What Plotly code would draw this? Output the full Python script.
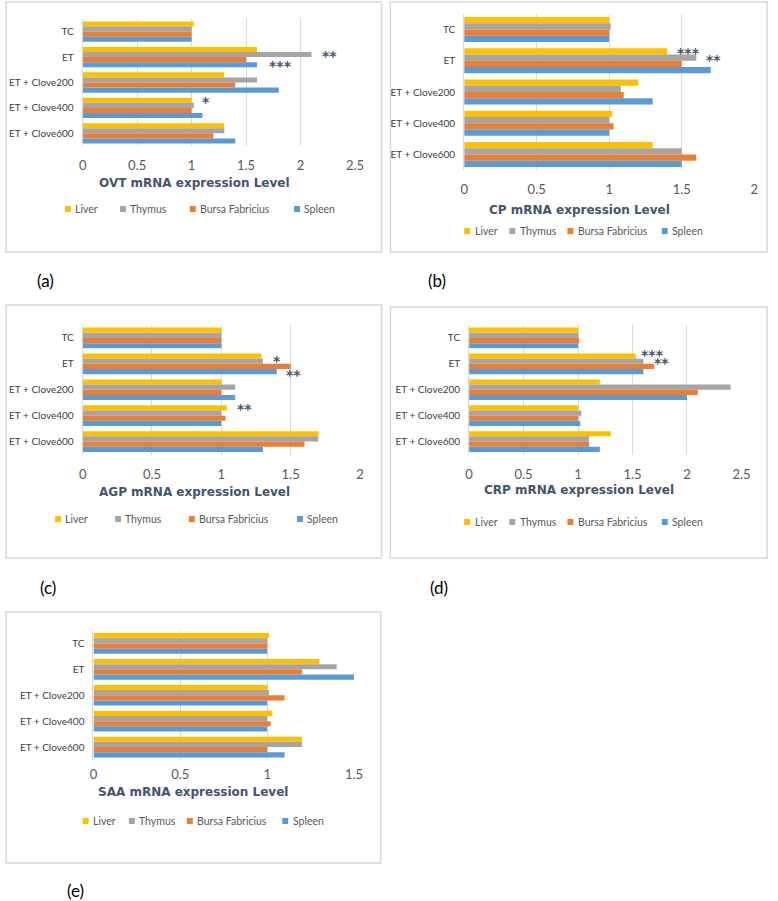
import plotly.graph_objects as go

W, H = 778, 901

categories = ["TC", "ET", "ET + Clove200", "ET + Clove400", "ET + Clove600"]
series_names = ["Liver", "Thymus", "Bursa Fabricius", "Spleen"]
series_colors = ["#FFC000", "#A5A5A5", "#ED7D31", "#5B9BD5"]

# values per series, in category order (TC, ET, +200, +400, +600)
ovt_liver = [1.02, 1.6, 1.3, 1.0, 1.3]
ovt_thymus = [1.0, 2.1, 1.6, 1.02, 1.3]
ovt_bursa = [1.0, 1.5, 1.4, 1.0, 1.2]
ovt_spleen = [1.0, 1.6, 1.8, 1.1, 1.4]

cp_liver = [1.0, 1.4, 1.2, 1.02, 1.3]
cp_thymus = [1.01, 1.6, 1.08, 1.0, 1.5]
cp_bursa = [1.0, 1.5, 1.1, 1.03, 1.6]
cp_spleen = [1.0, 1.7, 1.3, 1.0, 1.5]

agp_liver = [1.0, 1.29, 1.0, 1.04, 1.7]
agp_thymus = [1.0, 1.3, 1.1, 1.0, 1.7]
agp_bursa = [1.0, 1.5, 1.0, 1.03, 1.6]
agp_spleen = [1.0, 1.4, 1.1, 1.0, 1.3]

crp_liver = [1.0, 1.53, 1.2, 1.0, 1.3]
crp_thymus = [1.0, 1.6, 2.4, 1.03, 1.1]
crp_bursa = [1.01, 1.7, 2.1, 1.0, 1.1]
crp_spleen = [1.0, 1.6, 2.0, 1.02, 1.2]

saa_liver = [1.01, 1.3, 1.0, 1.03, 1.2]
saa_thymus = [1.0, 1.4, 1.01, 1.0, 1.2]
saa_bursa = [1.0, 1.2, 1.1, 1.02, 1.0]
saa_spleen = [1.0, 1.5, 1.0, 1.0, 1.1]

titles = ["OVT mRNA expression Level", "CP mRNA expression Level",
          "AGP mRNA expression Level", "CRP mRNA expression Level",
          "SAA mRNA expression Level"]
panel_labels = ["(a)", "(b)", "(c)", "(d)", "(e)"]
x_ranges = [[0, 2.5], [0, 2], [0, 2], [0, 2.5], [0, 1.5]]

# significance marks: (panel, x value, category position, text)
stars = [
    (0, 2.27, 0.82, "**"), (0, 1.82, 1.23, "***"), (0, 1.13, 2.64, "*"),
    (1, 1.545, 0.64, "***"), (1, 1.72, 0.88, "**"),
    (2, 1.405, 0.79, "*"), (2, 1.52, 1.32, "**"), (2, 1.17, 2.63, "**"),
    (3, 1.68, 0.56, "***"), (3, 1.77, 0.86, "**"),
]

panels = [
    [ovt_liver, ovt_thymus, ovt_bursa, ovt_spleen],
    [cp_liver, cp_thymus, cp_bursa, cp_spleen],
    [agp_liver, agp_thymus, agp_bursa, agp_spleen],
    [crp_liver, crp_thymus, crp_bursa, crp_spleen],
    [saa_liver, saa_thymus, saa_bursa, saa_spleen],
]

# layout in pixels
plot_px = [  # x0, x1, y0(top), y1(bottom)
    (80, 357, 19, 146),
    (468, 763, 14, 170),
    (80, 362, 325, 454.5),
    (473, 750, 325, 454.5),
    (91, 356, 630.5, 760),
]
tick_standoff = [10, 10, 10, 10, 5]
frames_px = [(2, 384, 2, 252), (393, 776, 2, 252), (2, 384, 305, 558),
             (393, 776, 307, 558), (2, 383, 612, 863)]
title_px = [(194, 183), (585, 210), (194, 492), (585, 490), (192, 792)]
label_px = [(42, 280), (440, 280), (45, 587), (442, 587), (73, 890)]
# legend: row y, marker left x for each entry
legend_rows = [
    (209, [62, 118, 189, 295]),
    (231, [468, 514, 573, 669]),
    (519, [52, 113, 188, 298]),
    (522, [468, 514, 573, 669]),
    (821, [80, 127, 186, 283]),
]


def fx(px):
    return px / W


def fy(py):
    return 1 - py / H


FONT = "Lato"
fig = go.Figure()
annotations = []
shapes = []
layout = {}

for i, vals in enumerate(panels):
    n = "" if i == 0 else str(i + 1)
    xa, ya = "x" + n, "y" + n
    for s, (name, col) in enumerate(zip(series_names, series_colors)):
        fig.add_trace(go.Bar(
            x=vals[s], y=categories, orientation="h", name=name,
            marker=dict(color=col, line=dict(width=0)),
            xaxis=xa, yaxis=ya, showlegend=False, hoverinfo="x+y+name"))
    x0, x1, y0, y1 = plot_px[i]
    layout["xaxis" + n] = dict(
        domain=[fx(x0), fx(x1)], range=x_ranges[i], anchor=ya,
        showgrid=True, gridcolor="#D9D9D9", gridwidth=1, zeroline=False,
        showline=False, ticks="", dtick=0.5, ticklabelstandoff=tick_standoff[i],
        tickfont=dict(family=FONT, size=13, color="#595959"), fixedrange=True)
    layout["yaxis" + n] = dict(
        domain=[fy(y1), fy(y0)], anchor=xa, type="category",
        categoryorder="array", categoryarray=categories, autorange="reversed",
        showgrid=False, zeroline=False, showline=True, linecolor="#D9D9D9",
        ticks="", ticklabelstandoff=6,
        tickfont=dict(family=FONT, size=10, color="#404040"), fixedrange=True)
    # legend (drawn as key squares + labels)
    ly, lxs = legend_rows[i]
    for name, col, lx in zip(series_names, series_colors, lxs):
        shapes.append(dict(type="rect", xref="paper", yref="paper",
                           x0=fx(lx), x1=fx(lx + 6), y0=fy(ly + 3), y1=fy(ly - 3),
                           fillcolor=col, line=dict(width=0)))
        annotations.append(dict(
            x=fx(lx + 8.5), y=fy(ly), xref="paper", yref="paper", text=name,
            showarrow=False, xanchor="left", yanchor="middle",
            font=dict(family=FONT, size=10.5, color="#595959")))
    tx, ty = title_px[i]
    annotations.append(dict(
        x=fx(tx), y=fy(ty), xref="paper", yref="paper", text="<b>" + titles[i] + "</b>",
        showarrow=False, xanchor="center", yanchor="middle",
        font=dict(family="DejaVu Sans", size=12, color="#44546A")))
    px_, py_ = label_px[i]
    annotations.append(dict(
        x=fx(px_), y=fy(py_), xref="paper", yref="paper", text=panel_labels[i],
        showarrow=False, xanchor="center", yanchor="middle",
        font=dict(family=FONT, size=17, color="#000000")))
    a, b, c, d = frames_px[i]
    shapes.append(dict(type="rect", xref="paper", yref="paper",
                       x0=fx(a), x1=fx(b), y0=fy(d), y1=fy(c),
                       line=dict(color="#D9D9D9", width=1.5), layer="below"))

for (p, xv, yv, txt) in stars:
    n = "" if p == 0 else str(p + 1)
    annotations.append(dict(
        x=xv, y=yv, xref="x" + n, yref="y" + n, text="<b>" + txt + "</b>",
        showarrow=False, xanchor="center", yanchor="middle", yshift=-3,
        font=dict(family="DejaVu Sans", size=14, color="#44546A")))

fig.update_layout(
    width=W, height=H, margin=dict(l=0, r=0, t=0, b=0),
    paper_bgcolor="white", plot_bgcolor="rgba(0,0,0,0)",
    barmode="group", bargap=0.2, bargroupgap=0, showlegend=False,
    annotations=annotations, shapes=shapes, **layout)

fig.write_html("out.html", config={"displayModeBar": False},
               post_script="document.body.style.margin='0';document.body.style.overflow='hidden';")
